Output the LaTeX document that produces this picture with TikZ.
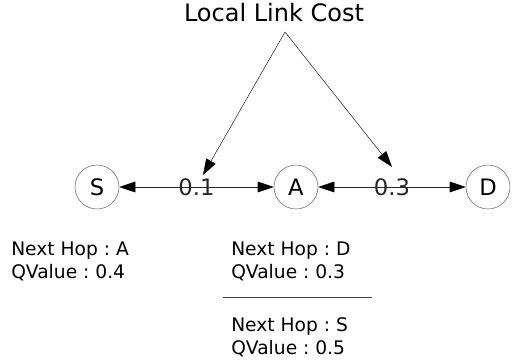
\documentclass[tikz,border=0pt]{standalone}
\usepackage{fontspec}
\setmainfont{DejaVu Sans}
\usetikzlibrary{arrows.meta,positioning}
\frenchspacing

\tikzset{
  hop/.style={draw=black!60,circle,minimum size=33pt,inner sep=0pt,
    font=\fontsize{17}{20}\selectfont},
  link/.style={{Triangle[length=12pt,width=8pt,black]}-{Triangle[length=12pt,width=8pt,black]},black!85},
  cost/.style={-{Triangle[length=12pt,width=8pt,black]},black!85},
  table/.style={anchor=north west,inner sep=0pt,align=left,
    font=\fontsize{14}{17.25}\selectfont}
}

\begin{document}
\begin{tikzpicture}[x=0.75pt,y=-0.75pt]
    \useasboundingbox (0,0) rectangle (512,362);
    \node[font=\fontsize{18}{22}\selectfont] (title) at (274,13) {Local Link Cost};
    \coordinate (apex) at (285,32);
    % nodes
    \node[hop] (S) at (97,187) {S};
    \node[hop] (A) at (296,187) {A};
    \node[hop] (D) at (488,187) {D};
    \draw[link] (S) -- node[font=\fontsize{17}{20}\selectfont] (c1) {0.1} (A);
    \draw[link] (A) -- node[font=\fontsize{17}{20}\selectfont] (c2) {0.3} (D);
    \coordinate (tipL) at (203,175);
    \coordinate (tipR) at (392,167);
    \draw[cost] (apex) -- (tipL);
    \draw[cost] (apex) -- (tipR);
    % q tables
    \node[table] (tabS) at (11,242) {Next Hop : A\\QValue : 0.4};
    \node[table] (tabA1) at (231,242) {Next Hop : D\\QValue : 0.3};
    \node[table] (tabA2) at (231,317) {Next Hop : S\\QValue : 0.5};
    \coordinate (ruleL) at (223,297);
    \coordinate (ruleR) at (372,297);
    \draw[black!75] (ruleL) -- (ruleR);
\end{tikzpicture}
\end{document}
